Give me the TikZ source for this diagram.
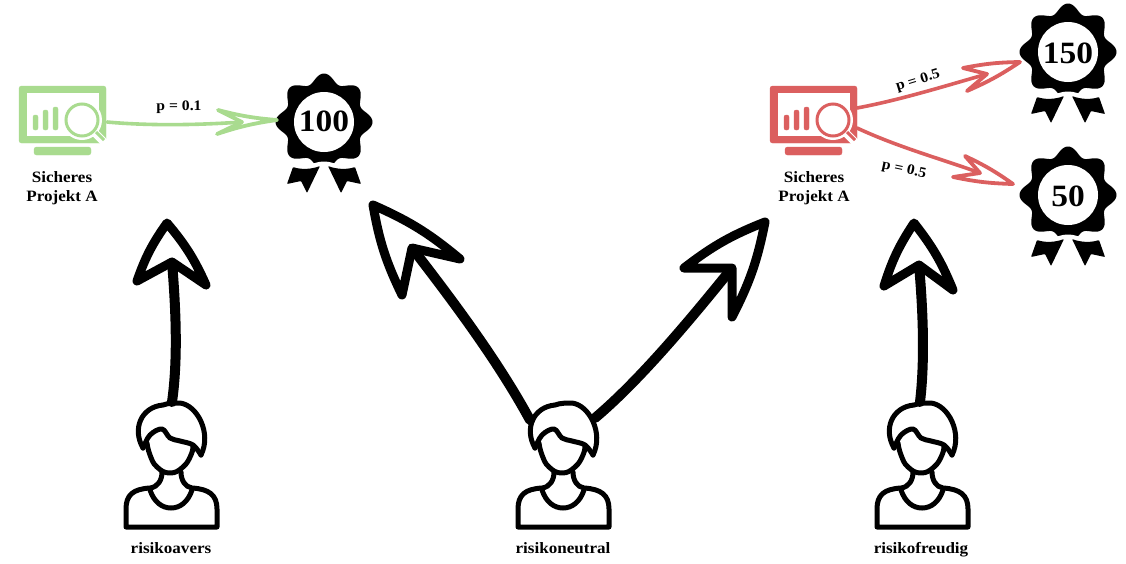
\documentclass[tikz,border=0pt]{standalone}
\usepackage{fontspec}
\setmainfont{Liberation Serif}[FakeStretch=1.08]
\definecolor{safegreen}{HTML}{A9DB8F}
\definecolor{riskred}{HTML}{DB5F5F}
\newcommand{\handhead}[5]{(#1) to[bend left=#5] (#2) to[bend left=#5] (#3) -- (#4) -- cycle}
\tikzset{
  x=1pt,y=-1pt,
  lbl/.style={font=\bfseries\fontsize{15.8}{19}\selectfont,align=center,inner sep=0pt,text=black},
  plbl/.style={font=\bfseries\fontsize{14.5}{16}\selectfont,inner sep=0pt,text=black},
  num/.style={font=\bfseries\fontsize{31}{33}\selectfont,inner sep=0pt,text=black},
  bigarrow/.style={draw=black,line width=10pt,line cap=round,line join=round},
  bighead/.style={draw=black,fill=white,line width=9pt,line cap=round,line join=round},
  thinarrow/.style={line width=3.6pt,line cap=round,line join=round},
  thinhead/.style={line width=3.8pt,line cap=round,line join=round,fill=white},
  monitoricon/.pic={
    \fill[pic actions,rounded corners=2.5pt] (0,0) rectangle (87,57);
    \fill[white] (8,7) rectangle (80,50);
    \fill[pic actions,rounded corners=2.5pt] (15,61) rectangle (72,69);
    \fill[pic actions,rounded corners=2pt] (14,29) rectangle (19,44);
    \fill[pic actions,rounded corners=2pt] (24,24) rectangle (29,44);
    \fill[pic actions,rounded corners=2pt] (34,21) rectangle (39,44);
    \fill[white] (63,34) circle (20);
    \draw[white,line width=8pt] (76,47) -- (90,61);
    \draw[pic actions,line width=3pt,fill=white] (63,34) circle (16);
    \draw[pic actions,line width=3pt] (77,46) -- (85,54);
  },
  medalicon/.pic={
    \fill[black] plot[smooth,samples=241,domain=0:360]
      ({(44+4.5*cos(8*\x))*cos(\x)},{(44+4.5*cos(8*\x))*sin(\x)}) -- cycle;
    \fill[white] (-56,40) .. controls (-30,39) and (-18,44) .. (-9,41)
      .. controls (-4,39) and (4,39) .. (9,41)
      .. controls (18,44) and (30,39) .. (56,40) -- (56,56) -- (-56,56) -- cycle;
    \fill[white] (0,0) circle (30);
    \fill[black,rounded corners=.8pt] (-31,45) .. controls (-22,48) and (-12,47) .. (-4,44) -- (-17,71) -- (-23,59) -- (-37,62) -- cycle;
    \fill[black,rounded corners=.8pt] (31,45) .. controls (22,48) and (12,47) .. (4,44) -- (17,71) -- (23,59) -- (37,62) -- cycle;
  },
  personicon/.pic={
    \begin{scope}[line width=5pt,line cap=round,line join=round,draw=black]
      \draw (-28,-17) .. controls (-39,-36) and (-30,-58) .. (-8,-60)
        .. controls (-3,-62) and (4,-62) .. (9,-62)
        .. controls (26,-60) and (41,-32) .. (30,-10);
      \draw plot[smooth,tension=.6] coordinates {(-28,-17) (-21,-30) (-9,-36) (-1,-27) (9,-24) (22,-20) (30,-10)};
      \draw plot[smooth,tension=.8] coordinates {(-24,-22) (-21,-10) (-14,2) (-1,8) (12,2) (20,-10) (22,-19)};
      \draw (-9,7) .. controls (-9,15) and (-13,22) .. (-21,23)
        .. controls (-38,24) and (-45,30) .. (-45,44) -- (-45,62) -- (46,62) -- (46,44)
        .. controls (46,30) and (38,24) .. (21,23)
        .. controls (14,22) and (10,15) .. (10,7);
      \draw (-21,25) .. controls (-17,37) and (-9,43) .. (0,43) .. controls (9,43) and (17,37) .. (21,25);
    \end{scope}
  },
}
\begin{document}
\begin{tikzpicture}
\useasboundingbox (0,0) rectangle (1126,563);
% icons
\pic[safegreen,fill=safegreen,draw=safegreen] at (19,86) {monitoricon};
\pic[riskred,fill=riskred,draw=riskred] at (770,86) {monitoricon};
\pic at (324,122) {medalicon};
\pic at (1068,52) {medalicon};
\pic at (1068,195) {medalicon};
\pic at (171,465) {personicon};
\pic at (563,465) {personicon};
\pic at (922,465) {personicon};
% labels and medal numbers
\node[lbl] (safeL) at (62,188) {Sicheres\\Projekt A};
\node[lbl] (safeR) at (814,188) {Sicheres\\Projekt A};
\node[lbl,anchor=base] (typeA) at (171,553.5) {risikoavers};
\node[lbl,anchor=base] (typeB) at (563,553.5) {risikoneutral};
\node[lbl,anchor=base] (typeC) at (921,553.5) {risikofreudig};
\node[num] (m100) at (324,121) {100};
\node[num] (m150) at (1068,53) {150};
\node[num] (m50) at (1068,196) {50};
\node[plbl] (p1) at (179,107) {p = 0.1};
\node[plbl,rotate=17] (p2) at (918,81) {p = 0.5};
\node[plbl,rotate=-12] (p3) at (904,170) {p = 0.5};
% anchors of the connectors
\coordinate (gs) at (107,122);
\coordinate (gn) at (242,122);
\coordinate (rs1) at (857,108);
\coordinate (rn1) at (987,74);
\coordinate (rs2) at (857,128);
\coordinate (rn2) at (980,173);
\coordinate (as) at (172,402);
\coordinate (an) at (172,262);
\coordinate (bs) at (530,420);
\coordinate (bn) at (412,248);
\coordinate (cs) at (595,418);
\coordinate (cn) at (732,268);
\coordinate (ds) at (920,402);
\coordinate (dn) at (919,265);
% thin arrows
\draw[thinarrow,safegreen] (gs) .. controls (150,126) and (200,125) .. (gn);
\draw[thinhead,draw=safegreen] \handhead{217,134}{277,120}{218,110}{gn}{5};
\draw[thinarrow,riskred] (rs1) .. controls (900,100) and (945,86) .. (rn1);
\draw[thinhead,draw=riskred] \handhead{963,68}{1020,62}{967,91}{rn1}{5};
\draw[thinarrow,riskred] (rs2) .. controls (900,148) and (945,160) .. (rn2);
\draw[thinhead,draw=riskred] \handhead{965,156}{1013,184}{953,177}{rn2}{5};
% big arrows
\draw[bigarrow] (as) .. controls (178,360) and (176,310) .. (an);
\draw[bighead] \handhead{137,281}{167,223}{206,285}{an}{8};
\draw[bigarrow] (bs) .. controls (500,365) and (460,310) .. (bn);
\draw[bighead] \handhead{402,295}{373,205}{460,259}{bn}{8};
\draw[bigarrow] (cs) .. controls (640,380) and (690,320) .. (cn);
\draw[bighead] \handhead{684,268}{765,222}{732,317}{cn}{8};
\draw[bigarrow] (ds) .. controls (925,360) and (923,310) .. (dn);
\draw[bighead] \handhead{884,286}{914,223}{953,290}{dn}{8};
\end{tikzpicture}
\end{document}
